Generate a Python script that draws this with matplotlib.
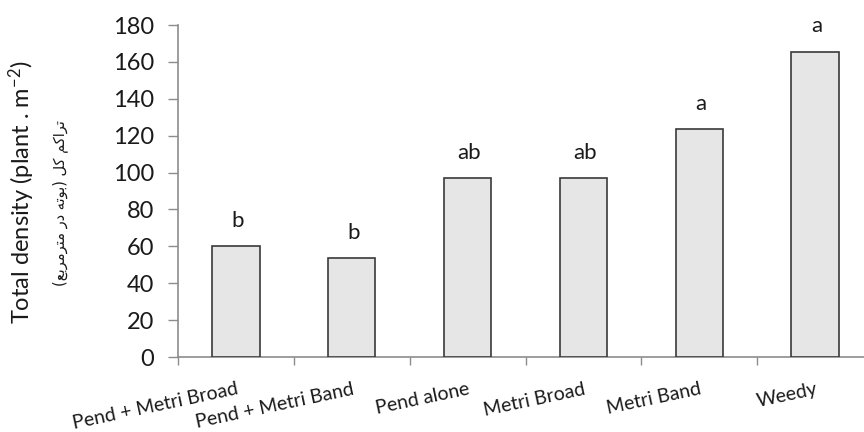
import matplotlib
matplotlib.use("Agg")
import matplotlib.pyplot as plt
from matplotlib.ticker import MultipleLocator, FixedLocator

categories = ["Pend + Metri Broad", "Pend + Metri Band", "Pend alone",
              "Metri Broad", "Metri Band", "Weedy"]
values = [60, 53.5, 97, 97, 123.5, 165.5]
letters = ["b", "b", "ab", "ab", "a", "a"]
ylabel_en = "Total density (plant . m$^{\\mathrm{-2}}$)"
# Persian "تراکم کل (بوته در مترمربع)" in visual (LTR) order with presentation forms
ylabel_fa = ("(" + "\uFECA\uFE91\uFEAE\uFEE3\uFEAE\uFE98\uFEE3" + " " +
             "\uFEAD\uFEA9" + " " + "\uFEEA\uFE97\uFEEE\uFE91" + ")" + " " +
             "\uFEDE\uFEDB" + " " + "\uFEE2\uFEDB\uFE8D\uFEAE\uFE97")

plt.rcParams['font.family'] = ['Lato', 'DejaVu Sans']
plt.rcParams['mathtext.fontset'] = 'custom'
plt.rcParams['mathtext.rm'] = 'Lato'
plt.rcParams['mathtext.default'] = 'regular'

fig = plt.figure(figsize=(8.64, 4.32), dpi=100)
ax = fig.add_axes([178/864, 1-357/432, (873-178)/864, (357-25)/432])

x = list(range(len(categories)))
bars = ax.bar(x, values, width=0.41, color="#e6e6e6", edgecolor="#3a3a3a",
              linewidth=1.2, zorder=3)
for xi, v, t in zip(x, values, letters):
    ax.annotate(t, (xi, v), xytext=(1, 14), textcoords="offset points",
                ha="center", va="baseline", fontsize=16, color="#1a1a1a")

ax.set_xlim(-0.5, len(categories) - 0.5)
ax.set_ylim(0, 180)
ax.yaxis.set_major_locator(MultipleLocator(20))
ax.set_xticks(x)
ax.set_xticklabels(categories, rotation=12, ha="right", rotation_mode="anchor",
                   fontsize=14, color="#1a1a1a")
ax.xaxis.set_minor_locator(FixedLocator([i - 0.5 for i in range(len(categories) + 1)]))
ax.tick_params(axis="x", which="major", length=0, pad=17)
ax.tick_params(axis="x", which="minor", length=6, width=1, color="#8c8c8c", direction="out")
ax.tick_params(axis="y", length=7, width=1, color="#8c8c8c", direction="out", pad=10,
               labelsize=17, labelcolor="#1a1a1a")

for s in ["top", "right"]:
    ax.spines[s].set_visible(False)
for s in ["left", "bottom"]:
    ax.spines[s].set_color("#8c8c8c")
    ax.spines[s].set_linewidth(1.2)

fig.text(22/864, 1-192/432, ylabel_en, rotation=90, ha="center", va="center",
         fontsize=17, color="#1a1a1a")
fig.text(60/864, 1-203/432, ylabel_fa, rotation=90, ha="center", va="center",
         fontsize=10.5, color="#1a1a1a", family=['DejaVu Sans'])

fig.savefig("out.png", dpi=100)
